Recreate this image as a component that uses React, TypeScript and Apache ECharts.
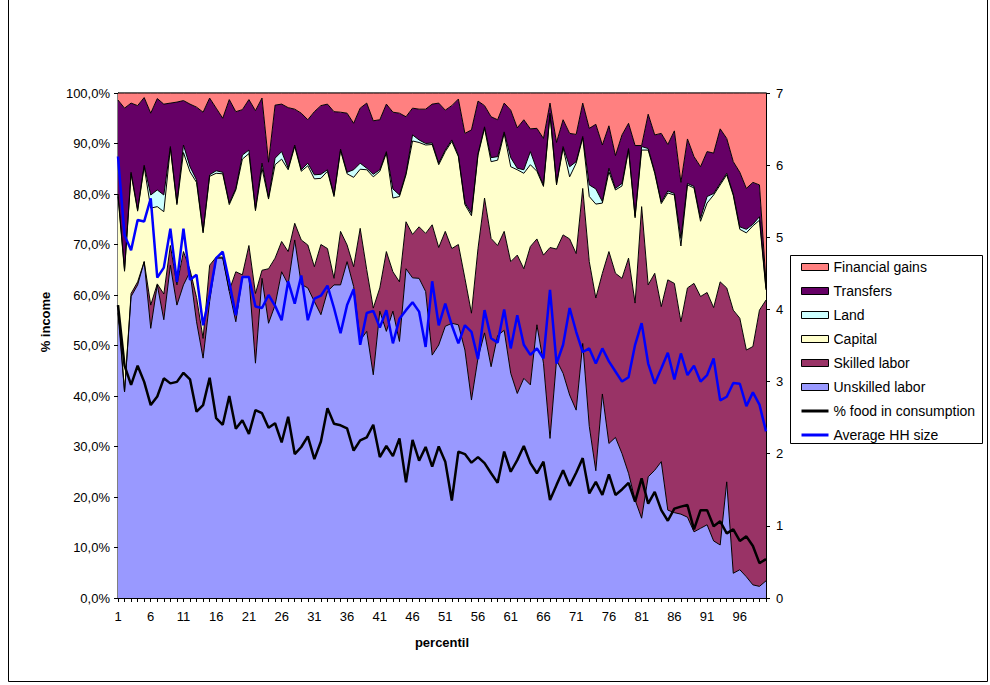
import React, { useEffect, useRef } from 'react';
import * as echarts from 'echarts';

const percentiles = [
  '1','2','3','4','5','6','7','8','9','10','11','12','13','14','15','16','17','18','19','20',
  '21','22','23','24','25','26','27','28','29','30','31','32','33','34','35','36','37','38','39','40',
  '41','42','43','44','45','46','47','48','49','50','51','52','53','54','55','56','57','58','59','60',
  '61','62','63','64','65','66','67','68','69','70','71','72','73','74','75','76','77','78','79','80',
  '81','82','83','84','85','86','87','88','89','90','91','92','93','94','95','96','97','98','99','100'
];

const unskilled = [56.5,40.8,59.7,62.0,66.6,53.4,62.0,55.1,65.9,58.0, 62.0,64.6,54.7,47.5,58.7,67.3,67.3,60.7,54.7,63.5,
  63.6,46.5,63.3,54.4,58.0,64.6,62.1,70.9,62.1,61.4, 58.7,56.1,60.7,62.0,62.0,66.6,61.7,51.0,52.8,44.2,
  56.8,52.8,56.8,50.8,65.2,63.4,63.3,60.7,48.1,50.1, 53.8,54.4,54.1,49.1,39.2,47.5,52.5,45.8,52.0,53.0,
  44.5,40.5,43.5,42.2,54.1,46.5,31.6,47.1,44.5,40.2, 37.2,50.4,34.0,25.2,40.4,30.6,31.8,28.6,24.7,19.4,
  15.8,24.0,25.3,27.0,17.4,16.9,16.6,16.0,13.1,13.8, 14.5,11.3,10.5,23.0,4.9,5.6,4.2,2.6,2.3,3.4];

const skilled = [1.5,0,0.6,0.6,0,4.6,0.2,5.1,3.9,4.0, 6.6,0.4,4.8,3.9,7.2,0.2,0.2,0.2,9.9,0.5,
  6.2,13.8,1.6,10.8,9.3,6.0,6.5,3.3,8.8,8.5, 6.9,13.9,8.5,1.3,10.6,3.3,3.9,22.2,12.2,13.2,
  4.6,15.8,7.8,11.8,9.3,8.6,10.2,11.5,25.8,19.3, 18.8,14.8,15.9,14.2,17.2,21.7,26.7,25.4,17.8,19.6,
  22.1,27.4,21.7,27.4,17.0,21.4,37.8,22.0,27.4,30.9, 31.0,30.7,32.6,34.2,23.9,38.0,32.5,34.7,42.6,39.0,
  61.7,38.0,39.0,30.7,45.6,45.4,38.1,45.4,49.2,45.9, 46.0,46.2,52.1,38.4,52.1,49.8,44.9,47.2,54.7,55.6];

const capital = [21.5,23.9,23.7,14.0,18.8,19.2,15.3,16.3,19.3,15.9, 19.6,19.4,22.8,20.9,17.6,16.6,16.5,17.0,16.2,22.9,
  18.2,16.4,20.2,13.8,18.5,16.3,16.2,15.2,13.6,15.7, 17.4,13.1,15.3,16.2,16.0,14.1,17.7,11.7,19.8,26.0,
  23.1,19.5,14.6,16.9,9.3,18.5,16.7,17.5,15.9,16.4, 15.8,21.2,17.4,14.6,19.3,18.5,13.8,15.2,16.9,19.4,
  18.8,16.9,18.9,16.2,13.4,13.6,26.3,12.7,17.2,12.3, 17.9,10.0,12.9,18.6,13.9,15.8,16.5,18.3,21.4,16.9,
  11.2,26.7,19.8,20.4,17.2,17.5,15.0,20.4,18.9,14.9, 17.7,22.3,19.2,22.4,22.7,17.6,23.2,23.9,17.8,2.0];

const land = [0.5,0.3,0.3,0.3,0.3,2.6,3.3,3.3,0.3,0.3, 1.5,1.0,0.5,0.3,0.3,0.5,0.3,0.3,0.3,0.8,
  0.7,0.3,1.0,0.3,1.3,1.5,0.3,0.3,0.3,0.5, 0.8,0.8,0.3,0.3,0.3,0.3,1.5,1.2,0.3,0.5,
  0.3,0.3,1.8,0.3,0.3,1.2,0.5,0.3,0.3,0.3, 0.3,0.3,0.3,0.3,0.5,0.3,0.3,0.8,0.7,0.3,
  1.8,0.3,0.7,2.6,0.3,0.3,0.3,0.3,0.3,2.0, 0.3,0.3,2.3,3.0,0.3,0.7,0.3,0.5,0.3,0.3,
  0.7,0.3,0.3,0.3,0.4,0.3,1.5,0.3,0.3,0.6, 1.3,0.3,0.3,0.3,0.3,0.5,0.7,0.3,0.7,0.3];

const transfers = [18.6,32.0,13.7,20.6,13.4,16.2,18.1,18.0,8.6,20.0, 8.8,12.4,14.4,23.6,15.2,12.4,10.7,20.5,15.2,9.0,
  10.0,19.5,12.9,7.0,10.5,9.4,12.0,7.1,11.2,8.6, 12.5,13.6,13.0,16.5,7.3,11.7,9.2,10.9,12.9,10.6,
  9.9,9.4,15.2,16.2,11.2,5.3,6.1,6.8,7.7,11.9, 7.9,6.8,11.1,13.8,16.5,10.4,4.2,8.1,7.3,5.7,
  9.4,8.0,9.9,4.5,8.2,9.2,2.0,8.1,5.3,6.6, 5.4,6.6,11.2,12.8,11.2,8.4,6.5,9.6,5.0,14.0,
  0.2,6.8,7.3,13.6,9.2,12.4,11.1,8.8,5.9,10.2, 8.9,8.0,10.8,6.9,6.4,10.8,8.1,8.3,6.3,1.2];

const financial = [1.4,3.0,2.0,2.5,0.9,4.0,1.1,2.2,2.0,1.8, 1.5,2.2,2.8,3.8,1.0,3.0,5.0,1.3,3.7,3.3,
  1.3,3.5,1.0,13.7,2.4,2.2,2.9,3.2,4.0,5.3, 3.7,2.5,2.2,3.7,3.8,4.0,6.0,3.0,2.0,5.5,
  5.3,2.2,3.8,4.0,4.7,3.0,3.2,3.2,2.2,2.0, 3.4,2.5,1.2,8.0,7.3,1.6,2.5,4.7,5.3,2.0,
  3.4,6.9,5.3,7.1,7.0,9.0,2.0,9.8,5.3,8.0, 8.2,2.0,7.0,6.2,10.3,6.5,12.4,8.3,6.0,10.4,
  10.4,4.2,8.3,8.0,10.2,7.5,17.7,9.1,12.6,14.6, 11.6,11.9,7.1,9.0,13.6,15.7,18.9,17.7,18.2,37.5];

const foodShare = [58,46,42.2,46,42.8,38.2,39.9,43.5,42.5,42.8, 44.6,43.3,36.9,38.2,43.6,35.6,34.3,40,33.5,35.2,
  32.5,37.2,36.6,33.7,34.6,30.8,35.9,28.5,29.9,32.0, 27.5,31.0,37.6,34.5,34.2,33.6,29.2,31.2,31.8,34.3,
  27.9,30.1,28.1,31.6,22.9,31.3,27.2,29.9,26.0,30.0, 27.0,19.3,29.0,28.5,26.8,27.9,26.7,24.7,22.8,29.0,
  25.0,27.3,30.1,26.7,24.7,27.0,19.4,22.4,25.3,22.2, 24.8,27.7,20.7,23.0,20.4,24.5,20.4,21.5,22.8,19.1,
  23.7,18.7,21.0,17.4,15.3,17.7,18.1,18.4,13.6,17.4, 17.4,14.2,15.2,12.8,13.6,11.3,12.2,10.3,6.9,7.7];

const hhSize = [6.12,5.03,4.82,5.24,5.22,5.54,4.44,4.58,5.12,4.38, 5.12,4.41,4.48,3.78,4.2,4.71,4.8,4.38,3.92,4.45,
  4.45,4.04,4.02,4.2,4.05,3.85,4.39,4.08,4.47,3.85, 4.15,4.19,4.33,4.02,3.67,4.06,4.28,3.51,3.95,3.98,
  3.75,3.99,3.53,3.87,3.99,4.10,3.97,3.48,4.39,3.78, 4.08,3.78,3.53,3.78,3.69,3.31,3.99,3.6,3.54,4.0,
  3.46,3.92,3.51,3.37,3.46,3.32,4.27,3.25,3.51,4.02, 3.69,3.41,3.46,3.25,3.46,3.28,3.14,3.0,3.06,3.51,
  3.81,3.25,2.97,3.18,3.40,3.03,3.39,3.09,3.22,3.0, 3.09,3.32,2.74,2.79,2.98,2.97,2.66,2.85,2.68,2.31];

const leftTicks = { min: 0, max: 100, interval: 10 };
const rightTicks = { min: 0, max: 7, interval: 1 };

export default function App() {
  const ref = useRef<HTMLDivElement>(null);

  useEffect(() => {
    if (!ref.current) return;
    const chart = echarts.init(ref.current, null, { renderer: 'svg' });
    const font = "'Liberation Sans', Arial, sans-serif";

    const areaDefs = [
      { name: 'Unskilled labor', data: unskilled, color: '#9999FF' },
      { name: 'Skilled labor', data: skilled, color: '#993366' },
      { name: 'Capital', data: capital, color: '#FFFFCC' },
      { name: 'Land', data: land, color: '#CCFFFF' },
      { name: 'Transfers', data: transfers, color: '#660066' },
      { name: 'Financial gains', data: financial, color: '#FF8080' },
    ];

    const areaSeries = areaDefs.map((d) => ({
      name: d.name,
      type: 'line',
      stack: 'income',
      data: d.data,
      symbol: 'none',
      showSymbol: false,
      color: d.color,
      lineStyle: { color: '#000', width: 1 },
      areaStyle: { color: d.color, opacity: 1 },
      itemStyle: { color: d.color },
      emphasis: { disabled: true },
      silent: true,
      z: 2,
    }));

    const lineIcon = 'path://M0,0H27V3H0Z';

    chart.setOption({
      animation: false,
      backgroundColor: '#fff',
      grid: {
        left: 118, right: 224, top: 93, bottom: 87,
        show: true, borderColor: '#000', borderWidth: 1, backgroundColor: 'transparent',
      },
      legend: {
        orient: 'vertical',
        left: 801,
        top: 260,
        itemWidth: 27,
        itemHeight: 7,
        itemGap: 10,
        padding: 0,
        selectedMode: false,
        textStyle: { fontFamily: font, fontSize: 14, color: '#000', lineHeight: 14 },
        data: [
          ...areaDefs.slice().reverse().map((d) => ({
            name: d.name,
            icon: 'rect',
            itemStyle: { color: d.color, borderColor: '#000', borderWidth: 1 },
          })),
          { name: '% food in consumption', icon: lineIcon, itemStyle: { color: '#000', borderWidth: 0 } },
          { name: 'Average HH size', icon: lineIcon, itemStyle: { color: '#0000FF', borderWidth: 0 } },
        ],
      },
      xAxis: {
        type: 'category',
        data: percentiles,
        boundaryGap: false,
        axisLine: { show: true, lineStyle: { color: '#000', width: 1 } },
        axisTick: { show: true, interval: 0, length: 4, lineStyle: { color: '#000' } },
        axisLabel: { interval: 4, fontFamily: font, fontSize: 13, color: '#000', margin: 12 },
        splitLine: { show: false },
      },
      yAxis: [
        {
          type: 'value',
          position: 'left',
          ...leftTicks,
          axisLine: { show: true, lineStyle: { color: '#000', width: 1 } },
          axisTick: { show: true, length: 4, lineStyle: { color: '#000' } },
          axisLabel: {
            fontFamily: font, fontSize: 13, color: '#000', margin: 8,
            formatter: (v: number) => v.toFixed(1).replace('.', ',') + '%',
          },
          splitLine: { show: false },
        },
        {
          type: 'value',
          position: 'right',
          ...rightTicks,
          axisLine: { show: true, lineStyle: { color: '#000', width: 1 } },
          axisTick: { show: true, length: 4, lineStyle: { color: '#000' } },
          axisLabel: { fontFamily: font, fontSize: 13, color: '#000', margin: 10 },
          splitLine: { show: false },
        },
      ],
      series: [
        ...areaSeries,
        {
          name: '% food in consumption',
          type: 'line',
          data: foodShare,
          yAxisIndex: 0,
          symbol: 'none',
          color: '#000',
          lineStyle: { color: '#000', width: 2.5 },
          emphasis: { disabled: true },
          silent: true,
          z: 4,
        },
        {
          name: 'Average HH size',
          type: 'line',
          data: hhSize,
          yAxisIndex: 1,
          symbol: 'none',
          color: '#0000FF',
          lineStyle: { color: '#0000FF', width: 2.5 },
          emphasis: { disabled: true },
          silent: true,
          z: 5,
        },
      ],
      graphic: [
        {
          type: 'rect',
          shape: { x: 8.5, y: -2, width: 979, height: 683.5 },
          style: { fill: 'none', stroke: '#000', lineWidth: 1 },
          silent: true,
        },
        {
          type: 'rect',
          shape: { x: 790.5, y: 255.5, width: 192, height: 188 },
          style: { fill: 'none', stroke: '#000', lineWidth: 1 },
          silent: true,
        },
        {
          type: 'text',
          x: 45,
          y: 322,
          rotation: Math.PI / 2,
          style: {
            text: '% income', fill: '#000', font: "bold 13px 'Liberation Sans', Arial, sans-serif",
            textAlign: 'center', textVerticalAlign: 'middle',
          },
          silent: true,
        },
        {
          type: 'text',
          x: 442,
          y: 642,
          style: {
            text: 'percentil', fill: '#000', font: "bold 13px 'Liberation Sans', Arial, sans-serif",
            textAlign: 'center', textVerticalAlign: 'middle',
          },
          silent: true,
        },
      ],
    });

    return () => chart.dispose();
  }, []);

  return (
    <div
      ref={ref}
      style={{ position: 'fixed', left: 0, top: 0, width: 990, height: 685, background: '#fff' }}
    />
  );
}
